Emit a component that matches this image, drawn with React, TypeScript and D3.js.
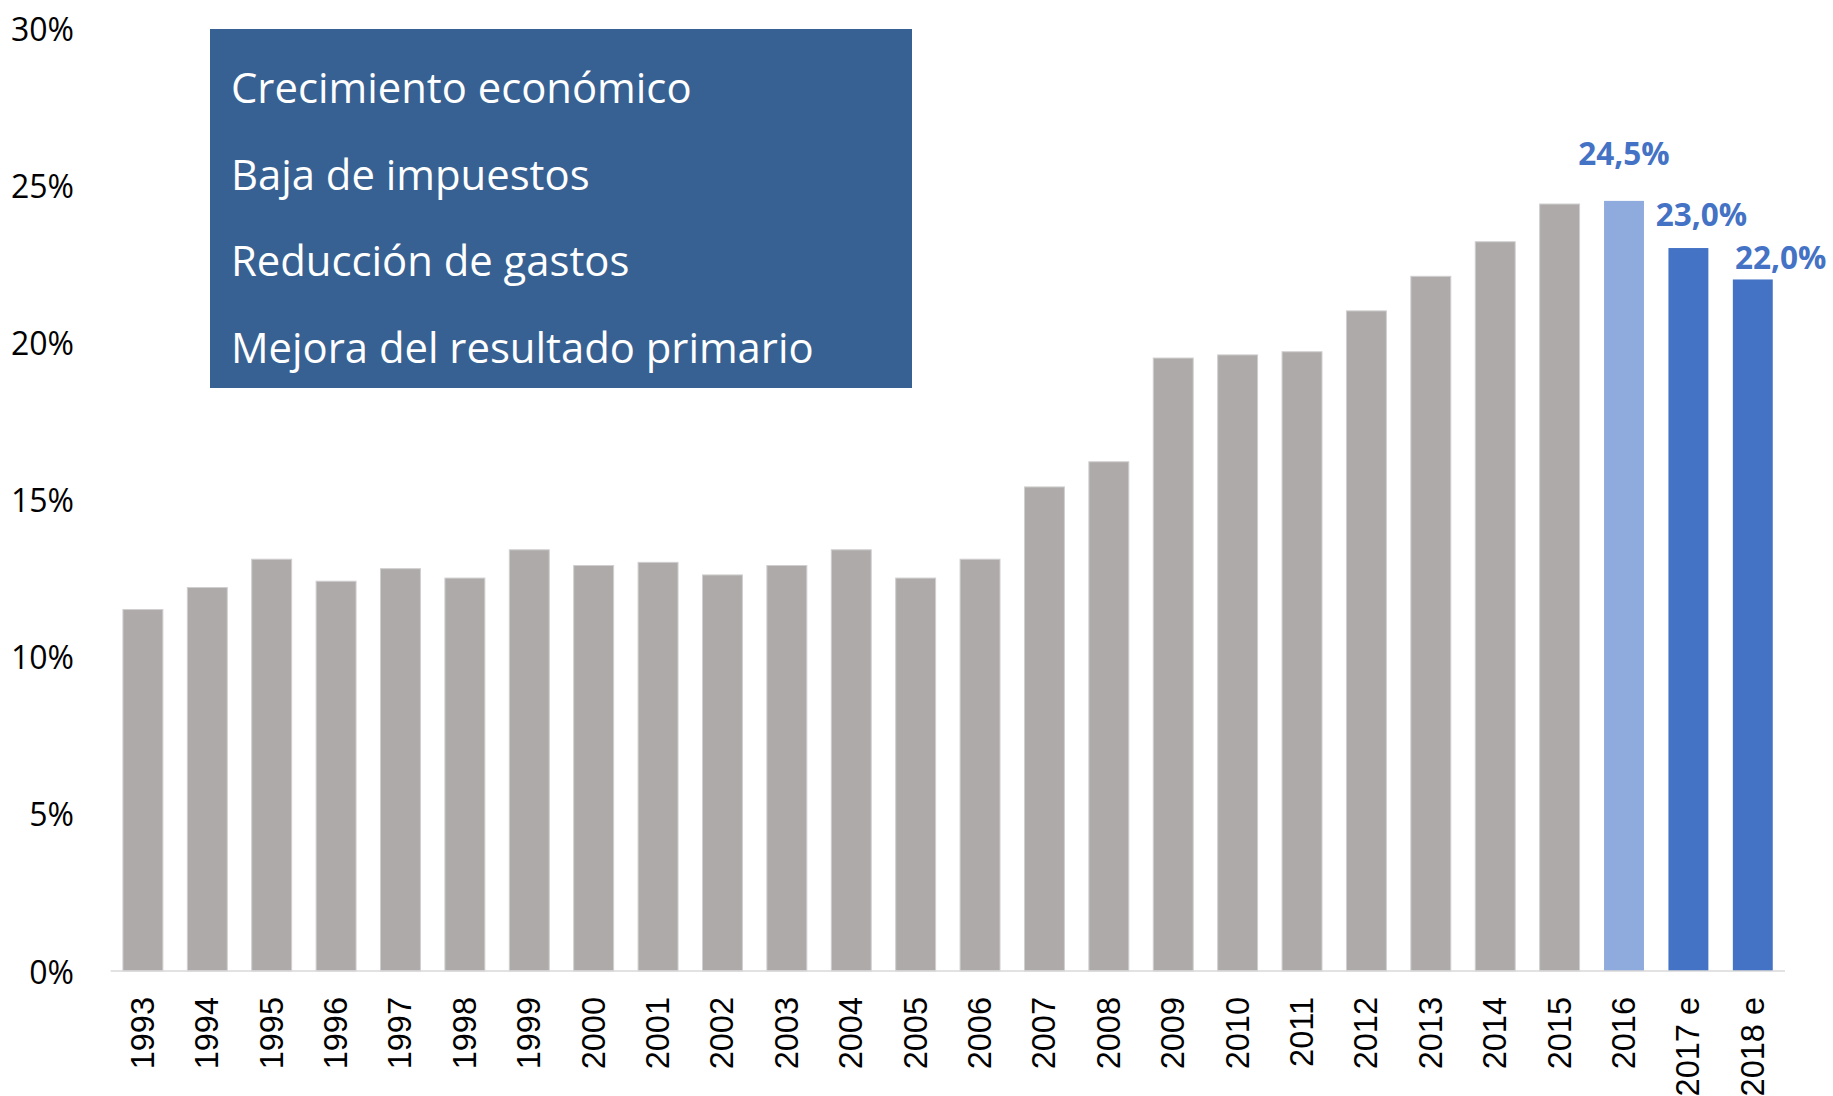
import React from "react";
import * as d3 from "d3";

const categories = ["1993","1994","1995","1996","1997","1998","1999","2000","2001","2002","2003","2004","2005","2006","2007","2008","2009","2010","2011","2012","2013","2014","2015","2016","2017 e","2018 e"];
const values = [11.5,12.2,13.1,12.4,12.8,12.5,13.4,12.9,13.0,12.6,12.9,13.4,12.5,13.1,15.4,16.2,19.5,19.6,19.7,21.0,22.1,23.2,24.4,24.5,23.0,22.0];
const yTicks = [0,5,10,15,20,25,30];
const boxLines = ["Crecimiento económico","Baja de impuestos","Reducción de gastos","Mejora del resultado primario"];
const labelled = [
  { cat: "2016", text: "24,5%" },
  { cat: "2017 e", text: "23,0%" },
  { cat: "2018 e", text: "22,0%" },
];

const W = 1833, H = 1096;
const GREY = "#AEAAAA";
const LIGHT_BLUE = "#8FAADC";
const BLUE = "#4472C4";
const labelOffsets: Record<string, { dx: number; dy: number }> = {
  "2016": { dx: 0, dy: -36 },
  "2017 e": { dx: 13, dy: -22 },
  "2018 e": { dx: 28, dy: -10 },
};

export default function App() {
  const x = d3.scaleBand<string>().domain(categories).range([110.7, 1785]).paddingInner(0.38).paddingOuter(0.19);
  const y = d3.scaleLinear().domain([0, 30]).range([971, 28]);
  const fillFor = (c: string) => (c === "2016" ? LIGHT_BLUE : c.endsWith("e") ? BLUE : GREY);
  const valOf = (c: string) => values[categories.indexOf(c)];

  return (
    <svg width={W} height={H} style={{ position: "absolute", left: 0, top: 0, background: "#fff" }}>
      {yTicks.map((t) => (
        <text key={t} x={74} y={y(t)} textAnchor="end" dominantBaseline="central"
          fontFamily="'Open Sans', sans-serif" fontSize={32} fill="#000">{`${t}%`}</text>
      ))}
      {categories.map((c, i) => (
        <rect key={c} x={x(c)} y={y(values[i])} width={x.bandwidth()} height={y(0) - y(values[i])}
          fill={fillFor(c)} stroke={fillFor(c) === GREY ? "#D0CECE" : "none"} strokeWidth={1} />
      ))}
      <line x1={110.7} x2={1785} y1={y(0)} y2={y(0)} stroke="#D9D9D9" strokeWidth={1.5} />
      {categories.map((c) => {
        const cx = (x(c) as number) + x.bandwidth() / 2;
        const ty = y(0) + 26;
        return (
          <text key={c} transform={`translate(${cx},${ty}) rotate(-90)`} textAnchor="end" dominantBaseline="central"
            fontFamily="'Liberation Sans', Arial, sans-serif" fontSize={32.5} fill="#000">{c}</text>
        );
      })}
      {labelled.map((l) => {
        const cx = (x(l.cat) as number) + x.bandwidth() / 2 + labelOffsets[l.cat].dx;
        return (
          <text key={l.cat} x={cx} y={y(valOf(l.cat)) + labelOffsets[l.cat].dy} textAnchor="middle"
            fontFamily="'Open Sans', sans-serif" fontWeight="bold" fontSize={31.5} fill={BLUE}>{l.text}</text>
        );
      })}
      <rect x={210} y={29} width={702} height={359} fill="#376192" />
      {boxLines.map((t, i) => (
        <text key={t} x={231} y={103 + i * 86.5} fontFamily="'Open Sans', sans-serif" fontSize={41.8} fill="#fff">{t}</text>
      ))}
    </svg>
  );
}
